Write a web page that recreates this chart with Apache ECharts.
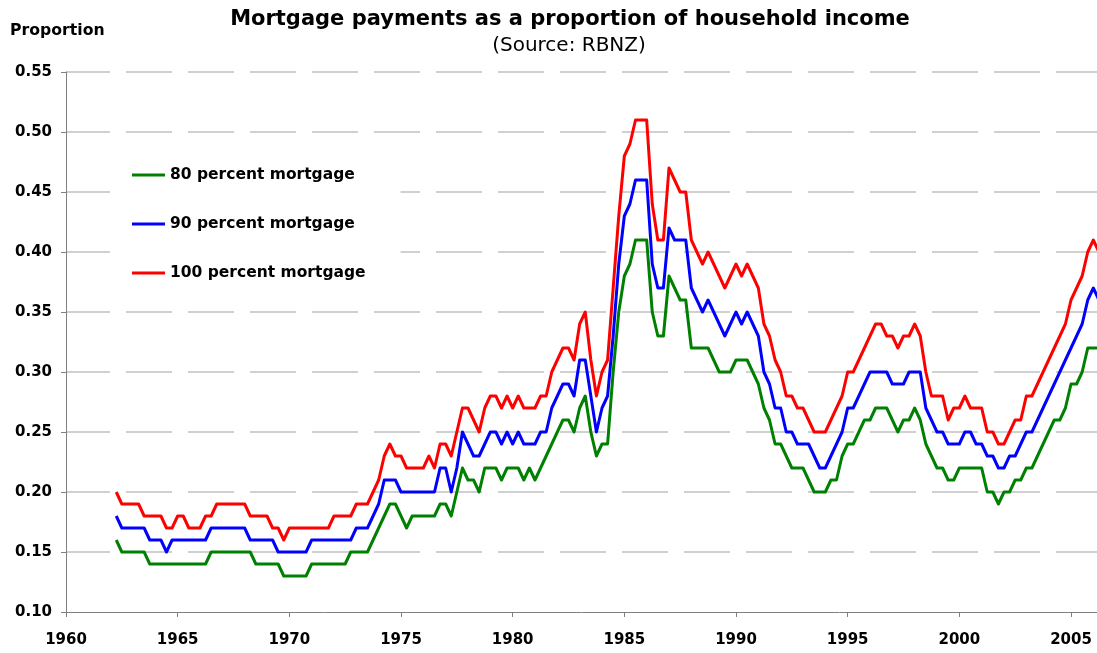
<!DOCTYPE html>
<html>
<head>
<meta charset="utf-8">
<script src="https://cdn.jsdelivr.net/npm/echarts@6/dist/echarts.min.js"></script>
<style>
html,body{margin:0;padding:0;background:#fff;}
#chart{width:1097px;height:653px;}
</style>
</head>
<body>
<div id="chart"></div>
<script>
// Quarterly observations, first one is 1962 Q2 (1962.25)
const startYear = 1962.25;
const quarterStep = 0.25;

const seriesNames = ['80 percent mortgage', '90 percent mortgage', '100 percent mortgage'];

const pct80 = [
  0.16,0.15,0.15,0.15,0.15,0.15,0.14,0.14,0.14,0.14,
  0.14,0.14,0.14,0.14,0.14,0.14,0.14,0.15,0.15,0.15,
  0.15,0.15,0.15,0.15,0.15,0.14,0.14,0.14,0.14,0.14,
  0.13,0.13,0.13,0.13,0.13,0.14,0.14,0.14,0.14,0.14,
  0.14,0.14,0.15,0.15,0.15,0.15,0.16,0.17,0.18,0.19,
  0.19,0.18,0.17,0.18,0.18,0.18,0.18,0.18,0.19,0.19,
  0.18,0.20,0.22,0.21,0.21,0.20,0.22,0.22,0.22,0.21,
  0.22,0.22,0.22,0.21,0.22,0.21,0.22,0.23,0.24,0.25,
  0.26,0.26,0.25,0.27,0.28,0.25,0.23,0.24,0.24,0.30,
  0.35,0.38,0.39,0.41,0.41,0.41,0.35,0.33,0.33,0.38,
  0.37,0.36,0.36,0.32,0.32,0.32,0.32,0.31,0.30,0.30,
  0.30,0.31,0.31,0.31,0.30,0.29,0.27,0.26,0.24,0.24,
  0.23,0.22,0.22,0.22,0.21,0.20,0.20,0.20,0.21,0.21,
  0.23,0.24,0.24,0.25,0.26,0.26,0.27,0.27,0.27,0.26,
  0.25,0.26,0.26,0.27,0.26,0.24,0.23,0.22,0.22,0.21,
  0.21,0.22,0.22,0.22,0.22,0.22,0.20,0.20,0.19,0.20,
  0.20,0.21,0.21,0.22,0.22,0.23,0.24,0.25,0.26,0.26,
  0.27,0.29,0.29,0.30,0.32,0.32,0.32
];

const pct90 = [
  0.18,0.17,0.17,0.17,0.17,0.17,0.16,0.16,0.16,0.15,
  0.16,0.16,0.16,0.16,0.16,0.16,0.16,0.17,0.17,0.17,
  0.17,0.17,0.17,0.17,0.16,0.16,0.16,0.16,0.16,0.15,
  0.15,0.15,0.15,0.15,0.15,0.16,0.16,0.16,0.16,0.16,
  0.16,0.16,0.16,0.17,0.17,0.17,0.18,0.19,0.21,0.21,
  0.21,0.20,0.20,0.20,0.20,0.20,0.20,0.20,0.22,0.22,
  0.20,0.22,0.25,0.24,0.23,0.23,0.24,0.25,0.25,0.24,
  0.25,0.24,0.25,0.24,0.24,0.24,0.25,0.25,0.27,0.28,
  0.29,0.29,0.28,0.31,0.31,0.28,0.25,0.27,0.28,0.33,
  0.39,0.43,0.44,0.46,0.46,0.46,0.39,0.37,0.37,0.42,
  0.41,0.41,0.41,0.37,0.36,0.35,0.36,0.35,0.34,0.33,
  0.34,0.35,0.34,0.35,0.34,0.33,0.30,0.29,0.27,0.27,
  0.25,0.25,0.24,0.24,0.24,0.23,0.22,0.22,0.23,0.24,
  0.25,0.27,0.27,0.28,0.29,0.30,0.30,0.30,0.30,0.29,
  0.29,0.29,0.30,0.30,0.30,0.27,0.26,0.25,0.25,0.24,
  0.24,0.24,0.25,0.25,0.24,0.24,0.23,0.23,0.22,0.22,
  0.23,0.23,0.24,0.25,0.25,0.26,0.27,0.28,0.29,0.30,
  0.31,0.32,0.33,0.34,0.36,0.37,0.36
];

const pct100 = [
  0.20,0.19,0.19,0.19,0.19,0.18,0.18,0.18,0.18,0.17,
  0.17,0.18,0.18,0.17,0.17,0.17,0.18,0.18,0.19,0.19,
  0.19,0.19,0.19,0.19,0.18,0.18,0.18,0.18,0.17,0.17,
  0.16,0.17,0.17,0.17,0.17,0.17,0.17,0.17,0.17,0.18,
  0.18,0.18,0.18,0.19,0.19,0.19,0.20,0.21,0.23,0.24,
  0.23,0.23,0.22,0.22,0.22,0.22,0.23,0.22,0.24,0.24,
  0.23,0.25,0.27,0.27,0.26,0.25,0.27,0.28,0.28,0.27,
  0.28,0.27,0.28,0.27,0.27,0.27,0.28,0.28,0.30,0.31,
  0.32,0.32,0.31,0.34,0.35,0.31,0.28,0.30,0.31,0.37,
  0.43,0.48,0.49,0.51,0.51,0.51,0.44,0.41,0.41,0.47,
  0.46,0.45,0.45,0.41,0.40,0.39,0.40,0.39,0.38,0.37,
  0.38,0.39,0.38,0.39,0.38,0.37,0.34,0.33,0.31,0.30,
  0.28,0.28,0.27,0.27,0.26,0.25,0.25,0.25,0.26,0.27,
  0.28,0.30,0.30,0.31,0.32,0.33,0.34,0.34,0.33,0.33,
  0.32,0.33,0.33,0.34,0.33,0.30,0.28,0.28,0.28,0.26,
  0.27,0.27,0.28,0.27,0.27,0.27,0.25,0.25,0.24,0.24,
  0.25,0.26,0.26,0.28,0.28,0.29,0.30,0.31,0.32,0.33,
  0.34,0.36,0.37,0.38,0.40,0.41,0.40
];

const xTickLabels = [1960, 1965, 1970, 1975, 1980, 1985, 1990, 1995, 2000, 2005];
const yTickLabels = [0.10, 0.15, 0.20, 0.25, 0.30, 0.35, 0.40, 0.45, 0.50, 0.55];

const FONT = 'DejaVu Sans';

function toPairs(vals) {
  return vals.map((v, i) => [startYear + i * quarterStep, v]);
}

const chart = echarts.init(document.getElementById('chart'), null, {renderer: 'canvas'});

const seriesData = [pct80, pct90, pct100];
const colors = ['#008000', '#0000ff', '#ff0000'];

chart.setOption({
  animation: false,
  backgroundColor: '#ffffff',
  title: [
    {
      text: 'Mortgage payments as a proportion of household income',
      left: 570, top: 9, padding: 0, textAlign: 'center',
      textStyle: {fontFamily: FONT, fontWeight: 'bold', fontSize: 21, color: '#000'}
    },
    {
      text: '(Source: RBNZ)',
      left: 569, top: 36, padding: 0, textAlign: 'center',
      textStyle: {fontFamily: FONT, fontWeight: 'normal', fontSize: 20, color: '#000'}
    },
    {
      text: 'Proportion',
      left: 10, top: 23, padding: 0,
      textStyle: {fontFamily: FONT, fontWeight: 'bold', fontSize: 15.7, color: '#000'}
    }
  ],
  legend: {
    orient: 'vertical',
    left: 115, top: 150,
    padding: [17, 35, 15, 17],
    backgroundColor: '#ffffff',
    icon: 'rect',
    itemWidth: 33, itemHeight: 3, itemGap: 33,
    data: seriesNames,
    textStyle: {fontFamily: FONT, fontWeight: 'bold', fontSize: 15.5, color: '#000'}
  },
  grid: {left: 66, right: 0, top: 72, bottom: 41, containLabel: false},
  xAxis: {
    type: 'value',
    min: 1960, max: 2006.164, interval: 5,
    axisLine: {show: true, lineStyle: {color: '#808080', width: 1}},
    axisTick: {show: true, inside: false, length: 5, lineStyle: {color: '#808080'}, customValues: xTickLabels},
    axisLabel: {
      customValues: xTickLabels,
      margin: 21,
      fontFamily: FONT, fontWeight: 'bold', fontSize: 15, color: '#000',
      formatter: v => String(Math.round(v))
    },
    splitLine: {show: false}
  },
  yAxis: {
    type: 'value',
    min: 0.10, max: 0.55, interval: 0.05,
    axisLine: {show: true, lineStyle: {color: '#808080', width: 1}},
    axisTick: {show: true, inside: false, length: 5, lineStyle: {color: '#808080'}},
    axisLabel: {
      margin: 14,
      fontFamily: FONT, fontWeight: 'bold', fontSize: 15, color: '#000',
      formatter: v => Number(v).toFixed(2)
    },
    splitLine: {show: true, showMinLine: false, lineStyle: {color: '#d0d0d0', width: 2, type: [46, 16], dashOffset: 2}}
  },
  series: seriesNames.map((name, k) => ({
    name: name,
    type: 'line',
    data: toPairs(seriesData[k]),
    symbol: 'none',
    showSymbol: false,
    clip: true,
    z: 3,
    lineStyle: {color: colors[k], width: 3, join: 'round'},
    itemStyle: {color: colors[k]}
  }))
});
</script>
</body>
</html>
